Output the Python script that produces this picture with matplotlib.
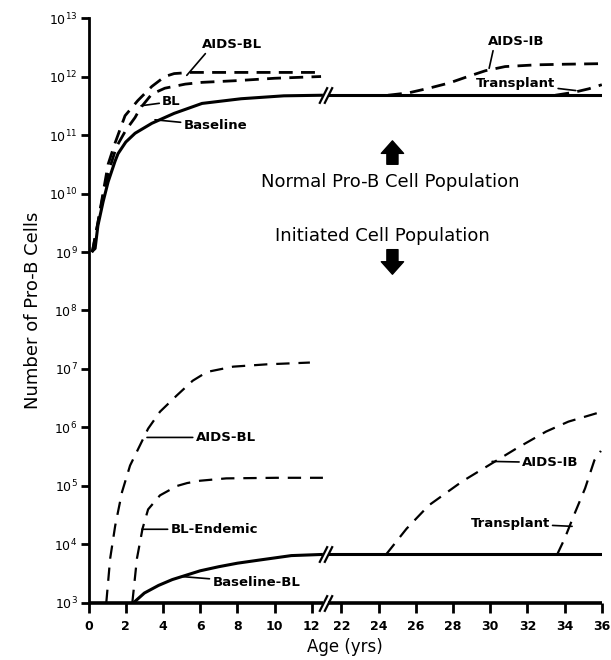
import numpy as np
import matplotlib
matplotlib.use("Agg")
import matplotlib.pyplot as plt

# axis break: ages between B0 and B1 are squeezed out
B0, B1, EPS = 12.73, 21.14, 0.001

# normal pro-B cell population (upper curves), y as log10(cells)
base_x = [0.15, 0.35, 0.5, 0.78, 1.05, 1.42, 1.58, 2.0, 2.5, 3.4, 4.6, 6.1, 8.2, 10.5, 12.6]
base_y = [9.0, 9.06, 9.45, 9.86, 10.2, 10.55, 10.68, 10.88, 11.03, 11.2, 11.37, 11.54, 11.62, 11.67, 11.68]
base_r_x = [21.3, 36]
base_r_y = [11.68, 11.68]

aidsbl_x = [0.2, 0.5, 0.8, 1.05, 1.42, 1.96, 2.65, 3.4, 4.1, 4.6, 5.5, 8, 10, 12.5]
aidsbl_y = [9.0, 9.5, 10.05, 10.5, 10.86, 11.33, 11.59, 11.83, 12.0, 12.05, 12.07, 12.07, 12.07, 12.07]

bl_x = [0.2, 0.5, 0.8, 1.1, 1.5, 2.0, 2.5, 2.76, 3.4, 4.1, 5.2, 6.1, 8, 10, 12.5]
bl_y = [9.0, 9.5, 10.0, 10.4, 10.8, 11.08, 11.3, 11.45, 11.7, 11.8, 11.87, 11.9, 11.93, 11.97, 12.0]

aidsib_x = [24.5, 25.6, 26.7, 27.8, 28.8, 29.75, 30.8, 32.5, 34, 36]
aidsib_y = [11.68, 11.72, 11.8, 11.89, 12.0, 12.1, 12.17, 12.2, 12.21, 12.22]

trans_x = [33.5, 34.5, 35.3, 36]
trans_y = [11.68, 11.73, 11.79, 11.86]

# initiated cell population (lower curves)
basebl_x = [2.4, 3.0, 3.76, 4.5, 5.2, 6.0, 7.0, 8.0, 9.1, 10.0, 10.9, 12.6]
basebl_y = [3.0, 3.17, 3.3, 3.4, 3.47, 3.55, 3.62, 3.68, 3.73, 3.77, 3.81, 3.83]
basebl_r_x = [21.3, 36]
basebl_r_y = [3.83, 3.83]

aidsbl_lo_x = [0.95, 1.16, 1.43, 1.8, 2.23, 2.77, 3.2, 3.84, 4.75, 5.6, 6.37, 7.77, 9.6, 11.9]
aidsbl_lo_y = [3.0, 3.76, 4.32, 4.9, 5.35, 5.7, 5.98, 6.27, 6.55, 6.8, 6.95, 7.04, 7.08, 7.11]

blend_x = [2.35, 2.6, 2.9, 3.2, 3.84, 4.75, 5.3, 6.0, 7.4, 10.1, 12.6]
blend_y = [3.0, 3.76, 4.27, 4.6, 4.84, 5.0, 5.05, 5.09, 5.13, 5.14, 5.14]

aidsib_lo_x = [24.4, 25.5, 26.7, 28.5, 29.9, 31.4, 33.0, 34.2, 36]
aidsib_lo_y = [3.83, 4.27, 4.67, 5.08, 5.35, 5.64, 5.93, 6.1, 6.27]

trans_lo_x = [33.6, 34.0, 34.5, 35.1, 35.6, 35.95]
trans_lo_y = [3.83, 4.1, 4.5, 4.96, 5.44, 5.6]

xticks = [0, 2, 4, 6, 8, 10, 12, 22, 24, 26, 28, 30, 32, 34, 36]
yticks = list(range(3, 14))


def fwd(x):
    x = np.asarray(x, float)
    return np.where(x <= B0, x,
                    np.where(x >= B1, x - B1 + B0 + EPS * (B1 - B0),
                             B0 + EPS * (x - B0)))


def inv(u):
    u = np.asarray(u, float)
    g = EPS * (B1 - B0)
    return np.where(u <= B0, u,
                    np.where(u >= B0 + g, u - B0 - g + B1,
                             B0 + (u - B0) / EPS))


def pw(v):
    return [10.0 ** a for a in v]


fig = plt.figure(figsize=(6.11, 6.6), dpi=100)
ax = fig.add_axes([0.145, 0.0864, 0.840, 0.8863])
ax.set_xscale("function", functions=(fwd, inv))
ax.set_yscale("log")

solid = dict(color="black", lw=2.2, solid_capstyle="butt")
dash = dict(color="black", lw=2.0, dashes=(5, 3))
dash_thin = dict(color="black", lw=1.6, dashes=(6, 4))

ax.plot(base_x, pw(base_y), **solid)
ax.plot(base_r_x, pw(base_r_y), **solid)
ax.plot(aidsbl_x, pw(aidsbl_y), **dash)
ax.plot(bl_x, pw(bl_y), **dash)
ax.plot(aidsib_x, pw(aidsib_y), **dash)
ax.plot(trans_x, pw(trans_y), **dash)

ax.plot(basebl_x, pw(basebl_y), **solid)
ax.plot(basebl_r_x, pw(basebl_r_y), **solid)
ax.plot(aidsbl_lo_x, pw(aidsbl_lo_y), **dash_thin)
ax.plot(blend_x, pw(blend_y), **dash_thin)
ax.plot(aidsib_lo_x, pw(aidsib_lo_y), **dash_thin)
ax.plot(trans_lo_x, pw(trans_lo_y), **dash_thin)

ax.set_xlim(0, 36)
ax.set_ylim(1e3, 1e13)

# x axis drawn by hand so it can carry the break
for sp in ["top", "right", "bottom"]:
    ax.spines[sp].set_visible(False)
ax.spines["left"].set_linewidth(2.0)
ax.plot([0, 12.6], [1e3, 1e3], color="black", lw=2.6, clip_on=False, solid_capstyle="butt")
ax.plot([21.3, 36], [1e3, 1e3], color="black", lw=2.6, clip_on=False, solid_capstyle="butt")

brk = [(-0.5, -1), (0.5, 1)]
for yv in [10 ** 11.68, 10 ** 3.83, 1e3]:
    ax.plot([12.6, 21.3], [yv, yv], marker=brk, markersize=12, linestyle="none",
            mec="black", mew=1.6, clip_on=False)

ax.set_xticks(xticks)
ax.set_xticklabels([str(t) for t in xticks])
ax.set_yticks([10.0 ** k for k in yticks])
ax.set_yticklabels([r"$10^{%d}$" % k for k in yticks])
ax.minorticks_off()
ax.tick_params(axis="x", direction="out", length=7, width=2, pad=5, labelsize=9)
ax.tick_params(axis="y", direction="out", length=6, width=2, pad=2, labelsize=9)
for lab in ax.get_xticklabels():
    lab.set_fontweight("bold")

ax.set_xlabel("Age (yrs)", fontsize=12, labelpad=4)
ax.set_ylabel("Number of Pro-B Cells", fontsize=13, labelpad=5)

lab = dict(fontsize=9.5, fontweight="bold", va="center")
ptr = dict(arrowstyle="-", lw=1.2, color="black", shrinkA=0, shrinkB=0)


def tag(text, xy, xytext, ha):
    ax.annotate(text, xy=(xy[0], 10 ** xy[1]), xytext=(xytext[0], 10 ** xytext[1]),
                ha=ha, arrowprops=ptr, **lab)


ax.annotate("AIDS-BL", xy=(5.28, 10 ** 12.02), xytext=(7.7, 10 ** 12.55), ha="center",
            arrowprops=dict(ptr, relpos=(0.1, 0.0)), **lab)
tag("BL", (2.82, 11.5), (3.95, 11.57), "left")
tag("Baseline", (3.57, 11.26), (5.1, 11.16), "left")
ax.annotate("AIDS-IB", xy=(29.94, 10 ** 12.14), xytext=(31.4, 10 ** 12.6), ha="center",
            arrowprops=dict(ptr, relpos=(0.1, 0.0)), **lab)
tag("Transplant", (34.6, 11.76), (33.5, 11.88), "right")

tag("AIDS-BL", (3.14, 5.83), (5.75, 5.83), "left")
tag("BL-Endemic", (2.87, 4.26), (4.4, 4.26), "left")
tag("Baseline-BL", (5.07, 3.45), (6.65, 3.35), "left")
tag("AIDS-IB", (30.1, 5.42), (31.7, 5.4), "left")
tag("Transplant", (34.4, 4.31), (33.2, 4.36), "right")

ax.text(24.6, 10 ** 10.2, "Normal Pro-B Cell Population", fontsize=13, ha="center", va="center")
ax.text(24.2, 10 ** 9.28, "Initiated Cell Population", fontsize=13, ha="center", va="center")
blk = dict(arrowstyle="simple,head_width=1.6,head_length=0.9,tail_width=0.8",
           color="black", shrinkA=0, shrinkB=0)
ax.annotate("", xy=(24.74, 10 ** 10.9), xytext=(24.74, 10 ** 10.5), arrowprops=blk)
ax.annotate("", xy=(24.74, 10 ** 8.62), xytext=(24.74, 10 ** 9.04), arrowprops=blk)

fig.savefig("out.png", dpi=100)
